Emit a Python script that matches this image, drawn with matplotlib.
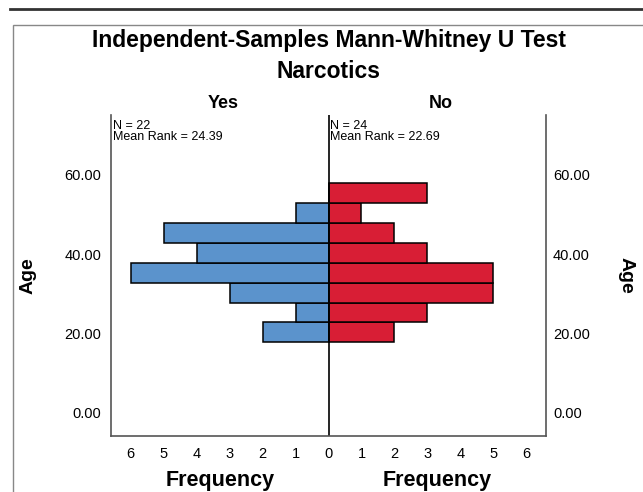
import matplotlib
matplotlib.use('Agg')
import matplotlib.pyplot as plt
from matplotlib.patches import Rectangle
from matplotlib.lines import Line2D
import numpy as np

plt.rcParams['font.family'] = ['Liberation Sans', 'DejaVu Sans']

# data
bin_lower = [17.8, 22.8, 27.8, 32.8, 37.8, 42.8, 47.8, 52.8]
bin_width = 5.0
yes_counts = [2, 1, 3, 6, 4, 5, 1, 0]
no_counts = [2, 3, 5, 5, 3, 2, 1, 3]
age_ticks = [0, 20, 40, 60]
freq_ticks = list(range(-6, 7))

W, H = 643, 492
fig = plt.figure(figsize=(W / 100, H / 100), dpi=100)

# outer decorations
fig.add_artist(Line2D([10 / W, 1.0], [1 - 8.5 / H, 1 - 8.5 / H],
                      color='#333333', lw=2, transform=fig.transFigure))
fig.add_artist(Rectangle((13 / W, -0.05), 1.0, 1 - 25 / H + 0.05,
                         transform=fig.transFigure, fill=False,
                         edgecolor='#888888', lw=1))

ax = fig.add_axes([111 / W, 1 - 436 / H, (546 - 111) / W, (436 - 115) / H])

y = np.array(bin_lower)
ax.barh(y, -np.array(yes_counts), height=bin_width, align='edge',
        color='#5b93cc', edgecolor='black', linewidth=1.1)
ax.barh(y, no_counts, height=bin_width, align='edge',
        color='#d81e35', edgecolor='black', linewidth=1.1)
ax.axvline(0, color='black', lw=1.2)

ax.set_xlim(-6.6, 6.6)
ax.set_ylim(-5.8, 75)
ax.set_xticks(freq_ticks)
ax.set_xticklabels([str(abs(t)) for t in freq_ticks], fontsize=10.5)
ax.set_yticks(age_ticks)
ax.set_yticklabels(['%.2f' % t for t in age_ticks], fontsize=10.5)
ax.tick_params(length=0, pad=7)
ax.tick_params(axis='x', pad=8)
for s in ['left', 'right', 'bottom']:
    ax.spines[s].set_color('#555555')
    ax.spines[s].set_linewidth(1.2)
ax.spines['top'].set_visible(False)

ax2 = ax.twinx()
ax2.set_ylim(ax.get_ylim())
ax2.set_yticks(age_ticks)
ax2.set_yticklabels(['%.2f' % t for t in age_ticks], fontsize=10.5)
ax2.tick_params(length=0, pad=5)
for s in ax2.spines.values():
    s.set_visible(False)

ax.set_ylabel('Age', fontsize=14, fontweight='bold', labelpad=20)
ax2.set_ylabel('Age', fontsize=14, fontweight='bold', rotation=-90, labelpad=32)

# frequency labels under each half
ax.text(-3.3, -0.14, 'Frequency', transform=ax.get_xaxis_transform(),
        ha='center', va='center', fontsize=15.5, fontweight='bold')
ax.text(3.3, -0.14, 'Frequency', transform=ax.get_xaxis_transform(),
        ha='center', va='center', fontsize=15.5, fontweight='bold')

# panel headings and counts
ax.text(-3.2, 1.035, 'Yes', transform=ax.get_xaxis_transform(),
        ha='center', va='center', fontsize=13, fontweight='bold')
ax.text(3.4, 1.035, 'No', transform=ax.get_xaxis_transform(),
        ha='center', va='center', fontsize=13, fontweight='bold')
ax.text(-6.55, 0.985, 'N = 22\nMean Rank = 24.39', transform=ax.get_xaxis_transform(),
        ha='left', va='top', fontsize=9, linespacing=0.95)
ax.text(0.05, 0.985, 'N = 24\nMean Rank = 22.69', transform=ax.get_xaxis_transform(),
        ha='left', va='top', fontsize=9, linespacing=0.95)

fig.text(0.511, 1 - 41 / H, 'Independent-Samples Mann-Whitney U Test',
         ha='center', va='center', fontsize=16.5, fontweight='bold')
fig.text(0.511, 1 - 71 / H, 'Narcotics',
         ha='center', va='center', fontsize=16.5, fontweight='bold')

fig.savefig('out.png', dpi=100)
